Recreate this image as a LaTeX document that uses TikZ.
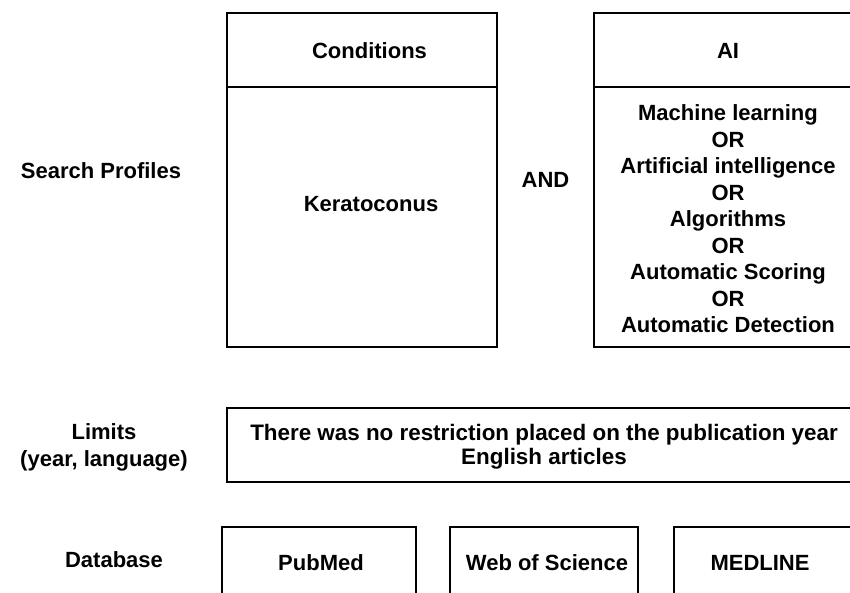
\documentclass[tikz,border=0pt]{standalone}
\usepackage{fontspec}
\setmainfont{Liberation Sans}
\begin{document}
\begin{tikzpicture}[x=1pt,y=-1pt,
  box/.style={draw, line width=2.6pt, inner sep=0pt, align=center},
  txt/.style={inner sep=0pt, align=center, font=\bfseries\fontsize{22}{26.5}\selectfont}]
\useasboundingbox (0,0) rectangle (850,592);
\clip (0,0) rectangle (850,592);
% Search profiles
\node[txt] (sp) at (101,171) {Search Profiles};
\node[box, minimum width=270pt, minimum height=74pt] (condh) at (362,50) {};
\node[box, minimum width=270pt, minimum height=260pt] (condb) at (362,217) {};
\node[txt] (condt) at (369.5,51) {Conditions};
\node[txt] (kera) at (371,204) {Keratoconus};
\node[txt] (and) at (545.5,180) {AND};
\node[box, minimum width=268pt, minimum height=74pt] (aih) at (728,50) {};
\node[box, minimum width=268pt, minimum height=260pt] (aib) at (728,217) {};
\node[txt] (ait) at (728,51) {AI};
\node[txt] (aiterms) at (728,219) {Machine learning\\OR\\Artificial intelligence\\OR\\Algorithms\\OR\\Automatic Scoring\\OR\\Automatic Detection};
% Limits
\node[txt, font=\bfseries\fontsize{22}{27}\selectfont] (lim) at (104,447) {Limits\\(year, language)};
\node[box, minimum width=632pt, minimum height=74pt] (limb) at (543,445) {};
\node[txt, font=\bfseries\fontsize{22.4}{24}\selectfont] (limt) at (544,446.5) {There was no restriction placed on the publication year\\English articles};
% Database
\node[txt] (db) at (114,560) {Database};
\node[box, minimum width=194pt, minimum height=74pt] (pm) at (319,564) {};
\node[txt] (pmt) at (321,563) {PubMed};
\node[box, minimum width=188pt, minimum height=74pt] (wos) at (544,564) {};
\node[txt] (wost) at (547,563) {Web of Science};
\node[box, minimum width=188pt, minimum height=74pt] (med) at (768,564) {};
\node[txt] (medt) at (760,563) {MEDLINE};
\end{tikzpicture}
\end{document}
